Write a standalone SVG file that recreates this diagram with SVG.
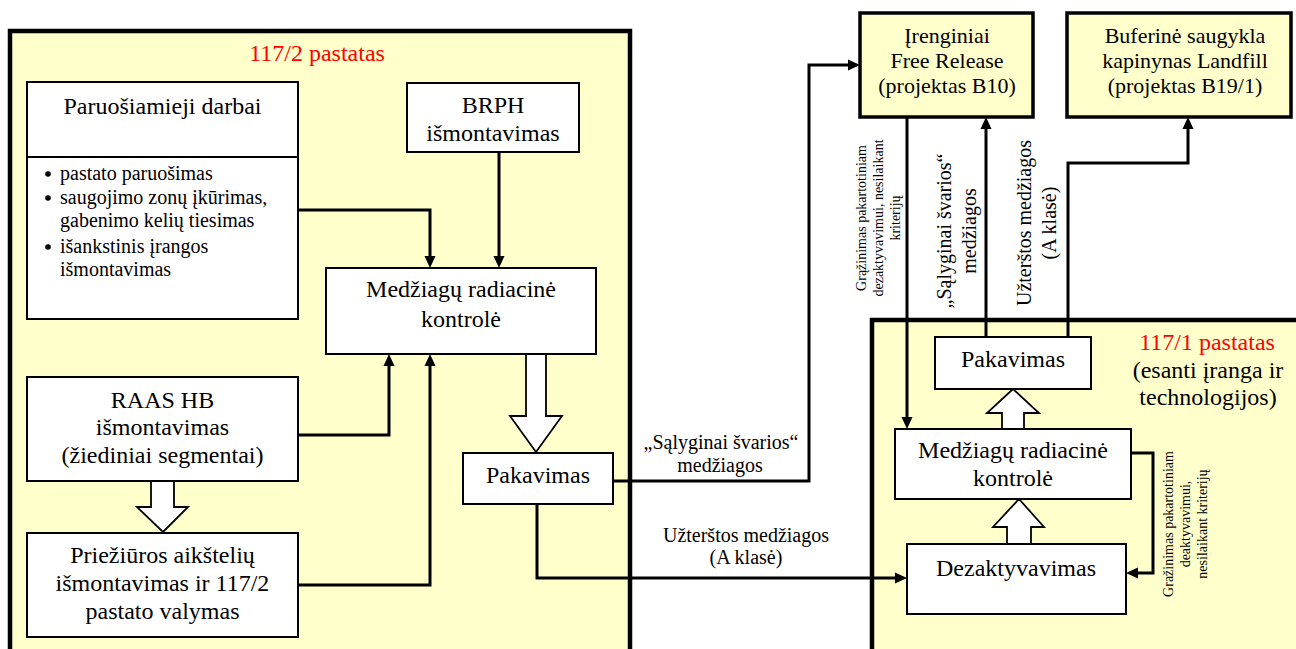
<svg xmlns="http://www.w3.org/2000/svg" width="1296" height="649" viewBox="0 0 1296 649">
<style>
text{font-family:"Liberation Serif","Times New Roman",serif;fill:#000}
.t24{font-size:24px;text-anchor:middle}
.t22{font-size:22px;text-anchor:middle}
.t20{font-size:20px;text-anchor:middle}
.t14{font-size:14px;text-anchor:middle}
.b20{font-size:20px}
.red{fill:#f00}
.bld{fill:#ffffcc;stroke:#000;stroke-width:4.5}
.box{fill:#fff;stroke:#000;stroke-width:2}
.ybox{fill:#ffffcc;stroke:#000;stroke-width:3.5}
.con{fill:none;stroke:#000;stroke-width:3}
.hol{fill:#fff;stroke:#000;stroke-width:1.8;stroke-linejoin:miter}
</style>
<defs>
<marker id="ah" viewBox="0 0 12 12" refX="6" refY="6" markerWidth="12" markerHeight="12" markerUnits="userSpaceOnUse" orient="auto">
<path d="M0,0.5 L12,6 L0,11.5 z" fill="#000"/>
</marker>
</defs>
<rect width="1296" height="649" fill="#fff"/>

<g id="building-117-2">
<rect class="bld" x="10" y="31" width="620" height="700"/>
<text class="t24 red" x="317" y="61">117/2 pastatas</text>
</g>
<g id="building-117-1">
<rect class="bld" x="872" y="320" width="500" height="400"/>
<text class="t24 red" x="1207" y="350">117/1 pastatas</text>
<text class="t24" x="1208" y="378">(esanti įranga ir</text>
<text class="t24" x="1208" y="405">technologijos)</text>
</g>

<g id="connectors">
<path class="con" d="M298,210 H430 V262" marker-end="url(#ah)"/>
<path class="con" d="M499,152 V262" marker-end="url(#ah)"/>
<path class="con" d="M298,435 H389 V360" marker-end="url(#ah)"/>
<path class="con" d="M298,585 H430 V360" marker-end="url(#ah)"/>
<path class="con" d="M613,481 H809 V65 H854" marker-end="url(#ah)"/>
<path class="con" d="M537,504 V578 H901" marker-end="url(#ah)"/>
<path class="con" d="M907,117 V423" marker-end="url(#ah)"/>
<path class="con" d="M986,337 V123" marker-end="url(#ah)"/>
<path class="con" d="M1068,337 V163 H1188 V123" marker-end="url(#ah)"/>
<path class="con" d="M1131,453 H1153 V573 H1132" marker-end="url(#ah)"/>
<polygon class="hol" points="151,481 174,481 174,507 188,507 163,532 137,507 151,507"/>
<polygon class="hol" points="526,354 546,354 546,416 562,416 536,452 510,416 526,416"/>
<polygon class="hol" points="1002,429 1024,429 1024,413 1039,413 1013,389 987,413 1002,413"/>
<polygon class="hol" points="1007,544 1031,544 1031,527 1044,527 1019,499 993,527 1007,527"/>
<text class="t20" x="721" y="449">„Sąlyginai švarios“</text>
<text class="t20" x="720" y="472">medžiagos</text>
<text class="t20" x="746" y="542">Užterštos medžiagos</text>
<text class="t20" x="746" y="564">(A klasė)</text>
<text class="t14" transform="translate(866,218) rotate(-90)"><tspan x="0" y="0">Grąžinimas pakartotiniam</tspan><tspan x="0" y="17">dezaktyvavimui, nesilaikant</tspan><tspan x="0" y="34">kriterijų</tspan></text>
<text class="t20" transform="translate(951,231) rotate(-90)"><tspan x="0" y="0">„Sąlyginai švarios“</tspan><tspan x="0" y="25">medžiagos</tspan></text>
<text class="t20" transform="translate(1031,223) rotate(-90)"><tspan x="0" y="0">Užterštos medžiagos</tspan><tspan x="0" y="25">(A klasė)</tspan></text>
<text class="t14" transform="translate(1173,524) rotate(-90)"><tspan x="0" y="0">Gražinimas pakartotiniam</tspan><tspan x="0" y="17">deaktyvavimui,</tspan><tspan x="0" y="34">nesilaikant kriterijų</tspan></text>
</g>

<g id="paruosiamieji">
<rect class="box" x="27" y="82" width="271" height="237"/>
<line x1="27" y1="157" x2="298" y2="157" stroke="#000" stroke-width="2"/>
<text class="t24" x="162.5" y="114">Paruošiamieji darbai</text>
<circle cx="48" cy="174" r="2.8" fill="#000"/>
<circle cx="48" cy="198" r="2.8" fill="#000"/>
<circle cx="48" cy="247" r="2.8" fill="#000"/>
<text class="b20" x="60" y="180">pastato paruošimas</text>
<text class="b20" x="60" y="204">saugojimo zonų įkūrimas,</text>
<text class="b20" x="60" y="227">gabenimo kelių tiesimas</text>
<text class="b20" x="60" y="253">išankstinis įrangos</text>
<text class="b20" x="60" y="276">išmontavimas</text>
</g>
<g id="brph">
<rect class="box" x="407" y="83" width="172" height="69"/>
<text class="t24" x="493" y="113">BRPH</text>
<text class="t24" x="493" y="141">išmontavimas</text>
</g>
<g id="medziagu-kontrole-2">
<rect class="box" x="326" y="268" width="270" height="86"/>
<text class="t24" x="461" y="297">Medžiagų radiacinė</text>
<text class="t24" x="461" y="327">kontrolė</text>
</g>
<g id="raas">
<rect class="box" x="27" y="377" width="271" height="104"/>
<text class="t24" x="162.5" y="408">RAAS HB</text>
<text class="t24" x="162.5" y="435">išmontavimas</text>
<text class="t24" x="162.5" y="463">(žiediniai segmentai)</text>
</g>
<g id="prieziuros">
<rect class="box" x="27" y="533" width="271" height="104"/>
<text class="t24" x="162.5" y="563">Priežiūros aikštelių</text>
<text class="t24" x="162.5" y="591">išmontavimas ir 117/2</text>
<text class="t24" x="162.5" y="619">pastato valymas</text>
</g>
<g id="pakavimas-2">
<rect class="box" x="463" y="453" width="150" height="51"/>
<text class="t24" x="538" y="483">Pakavimas</text>
</g>
<g id="irenginiai">
<rect class="ybox" x="860" y="13" width="173" height="104"/>
<text class="t22" x="947" y="43">Įrenginiai</text>
<text class="t22" x="947" y="68">Free Release</text>
<text class="t22" x="947" y="93">(projektas B10)</text>
</g>
<g id="buferine">
<rect class="ybox" x="1067" y="13" width="224" height="104"/>
<text class="t22" x="1185" y="43">Buferinė saugykla</text>
<text class="t22" x="1185" y="68">kapinynas Landfill</text>
<text class="t22" x="1185" y="93">(projektas B19/1)</text>
</g>
<g id="pakavimas-1">
<rect class="box" x="935" y="337" width="156" height="52"/>
<text class="t24" x="1013" y="367">Pakavimas</text>
</g>
<g id="medziagu-kontrole-1">
<rect class="box" x="895" y="429" width="236" height="70"/>
<text class="t24" x="1013" y="458">Medžiagų radiacinė</text>
<text class="t24" x="1013" y="486">kontrolė</text>
</g>
<g id="dezaktyvavimas">
<rect class="box" x="907" y="544" width="219" height="70"/>
<text class="t24" x="1016" y="576">Dezaktyvavimas</text>
</g>
</svg>
